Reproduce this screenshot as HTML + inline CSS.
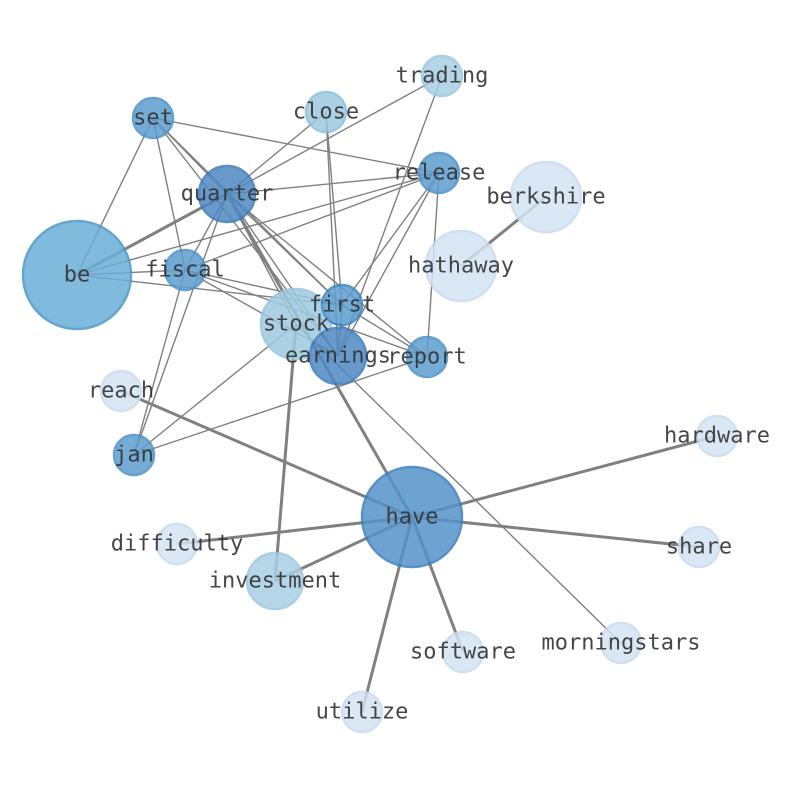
<!DOCTYPE html>
<html><head><style>body{margin:0;background:#fff}svg{display:block}</style></head><body>
<svg width="794" height="790" xmlns="http://www.w3.org/2000/svg" font-family="'DejaVu Sans Mono','Liberation Mono',monospace" font-size="22">
<g stroke="#808080" stroke-width="1.4">
<line x1="153" y1="118" x2="227" y2="194"/><line x1="153" y1="118" x2="77" y2="275"/><line x1="153" y1="118" x2="185" y2="270"/>
<line x1="153" y1="118" x2="439" y2="173"/><line x1="153" y1="118" x2="342" y2="305"/><line x1="153" y1="118" x2="338" y2="356"/>
<line x1="326" y1="112" x2="227" y2="194"/><line x1="326" y1="112" x2="342" y2="305"/><line x1="326" y1="112" x2="338" y2="356"/>
<line x1="442" y1="76" x2="227" y2="194"/><line x1="442" y1="76" x2="338" y2="356"/>
<line x1="227" y1="194" x2="439" y2="173"/><line x1="227" y1="194" x2="342" y2="305"/><line x1="227" y1="194" x2="338" y2="356"/>
<line x1="227" y1="194" x2="427" y2="357"/><line x1="227" y1="194" x2="134" y2="455"/><line x1="227" y1="194" x2="185" y2="270"/><line x1="227" y1="194" x2="296" y2="324"/>
<line x1="77" y1="275" x2="439" y2="173"/><line x1="77" y1="275" x2="185" y2="270"/><line x1="77" y1="275" x2="342" y2="305"/>
<line x1="185" y1="270" x2="439" y2="173"/><line x1="185" y1="270" x2="134" y2="455"/><line x1="185" y1="270" x2="427" y2="357"/>
<line x1="185" y1="270" x2="342" y2="305"/><line x1="185" y1="270" x2="338" y2="356"/>
<line x1="439" y1="173" x2="342" y2="305"/><line x1="439" y1="173" x2="338" y2="356"/><line x1="439" y1="173" x2="427" y2="357"/>
<line x1="296" y1="324" x2="134" y2="455"/><line x1="427" y1="357" x2="134" y2="455"/><line x1="296" y1="324" x2="621" y2="643"/>
<line x1="342" y1="305" x2="427" y2="357"/><line x1="342" y1="305" x2="338" y2="356"/>
</g>
<g stroke="#808080" stroke-width="3">
<line x1="77" y1="275" x2="227" y2="194"/><line x1="546" y1="197" x2="461" y2="266"/>
<line x1="227" y1="194" x2="412" y2="517"/><line x1="296" y1="324" x2="275" y2="581"/>
<line x1="412" y1="517" x2="121" y2="391"/><line x1="412" y1="517" x2="717" y2="436"/><line x1="412" y1="517" x2="699" y2="547"/>
<line x1="412" y1="517" x2="177" y2="544"/><line x1="412" y1="517" x2="275" y2="581"/><line x1="412" y1="517" x2="463" y2="652"/>
<line x1="412" y1="517" x2="362" y2="712"/>
</g>
<g stroke-width="2.5" opacity=".85">
<circle cx="77" cy="275" r="54" fill="#6baed6" stroke="#4a97cc"/>
<circle cx="442" cy="76" r="20" fill="#a9cfe6" stroke="#9cc7e1"/>
<circle cx="326" cy="112" r="20" fill="#9ecae1" stroke="#88bddc"/>
<circle cx="153" cy="118" r="20" fill="#5c9ecf" stroke="#4a90c8"/>
<circle cx="439" cy="173" r="20" fill="#5c9ecf" stroke="#4a90c8"/>
<circle cx="546" cy="197" r="35" fill="#d3e4f3" stroke="#c6dbef"/>
<circle cx="227" cy="194" r="28" fill="#4e89c2" stroke="#3a7bbd"/>
<circle cx="185" cy="270" r="20" fill="#5c9ecf" stroke="#4a90c8"/>
<circle cx="461" cy="266" r="35" fill="#d3e4f3" stroke="#c6dbef"/>
<circle cx="296" cy="324" r="35" fill="#9ecae1" stroke="#94c5e0"/>
<circle cx="342" cy="305" r="20" fill="#5c9ecf" stroke="#3a84c3"/>
<circle cx="338" cy="356" r="28" fill="#4e89c2" stroke="#3a7bbd"/>
<circle cx="427" cy="357" r="20" fill="#5c9ecf" stroke="#4a90c8"/>
<circle cx="121" cy="391" r="20" fill="#d3e4f3" stroke="#c6dbef"/>
<circle cx="134" cy="455" r="20" fill="#5c9ecf" stroke="#4a90c8"/>
<circle cx="717" cy="436" r="20" fill="#d3e4f3" stroke="#c6dbef"/>
<circle cx="412" cy="517" r="50" fill="#5592c8" stroke="#3a7fbf"/>
<circle cx="177" cy="544" r="20" fill="#d3e4f3" stroke="#c6dbef"/>
<circle cx="699" cy="547" r="20" fill="#d3e4f3" stroke="#c6dbef"/>
<circle cx="275" cy="581" r="28" fill="#a9cfe6" stroke="#9cc7e1"/>
<circle cx="621" cy="643" r="20" fill="#d3e4f3" stroke="#c6dbef"/>
<circle cx="463" cy="652" r="20" fill="#d3e4f3" stroke="#c6dbef"/>
<circle cx="362" cy="712" r="20" fill="#d3e4f3" stroke="#c6dbef"/>
</g>
<g fill="#333" text-anchor="middle" dominant-baseline="central" opacity=".9">
<text x="442" y="76">trading</text><text x="326" y="112">close</text><text x="153" y="118">set</text>
<text x="439" y="173">release</text><text x="546" y="197">berkshire</text><text x="227" y="194">quarter</text>
<text x="77" y="275">be</text><text x="185" y="270">fiscal</text><text x="461" y="266">hathaway</text>
<text x="342" y="305">first</text><text x="296" y="324">stock</text><text x="338" y="356">earnings</text>
<text x="427" y="357">report</text><text x="121" y="391">reach</text><text x="134" y="455">jan</text>
<text x="717" y="436">hardware</text><text x="412" y="517">have</text><text x="177" y="544">difficulty</text>
<text x="699" y="547">share</text><text x="275" y="581">investment</text><text x="621" y="643">morningstars</text>
<text x="463" y="652">software</text><text x="362" y="712">utilize</text>
</g>
</svg>
</body></html>
